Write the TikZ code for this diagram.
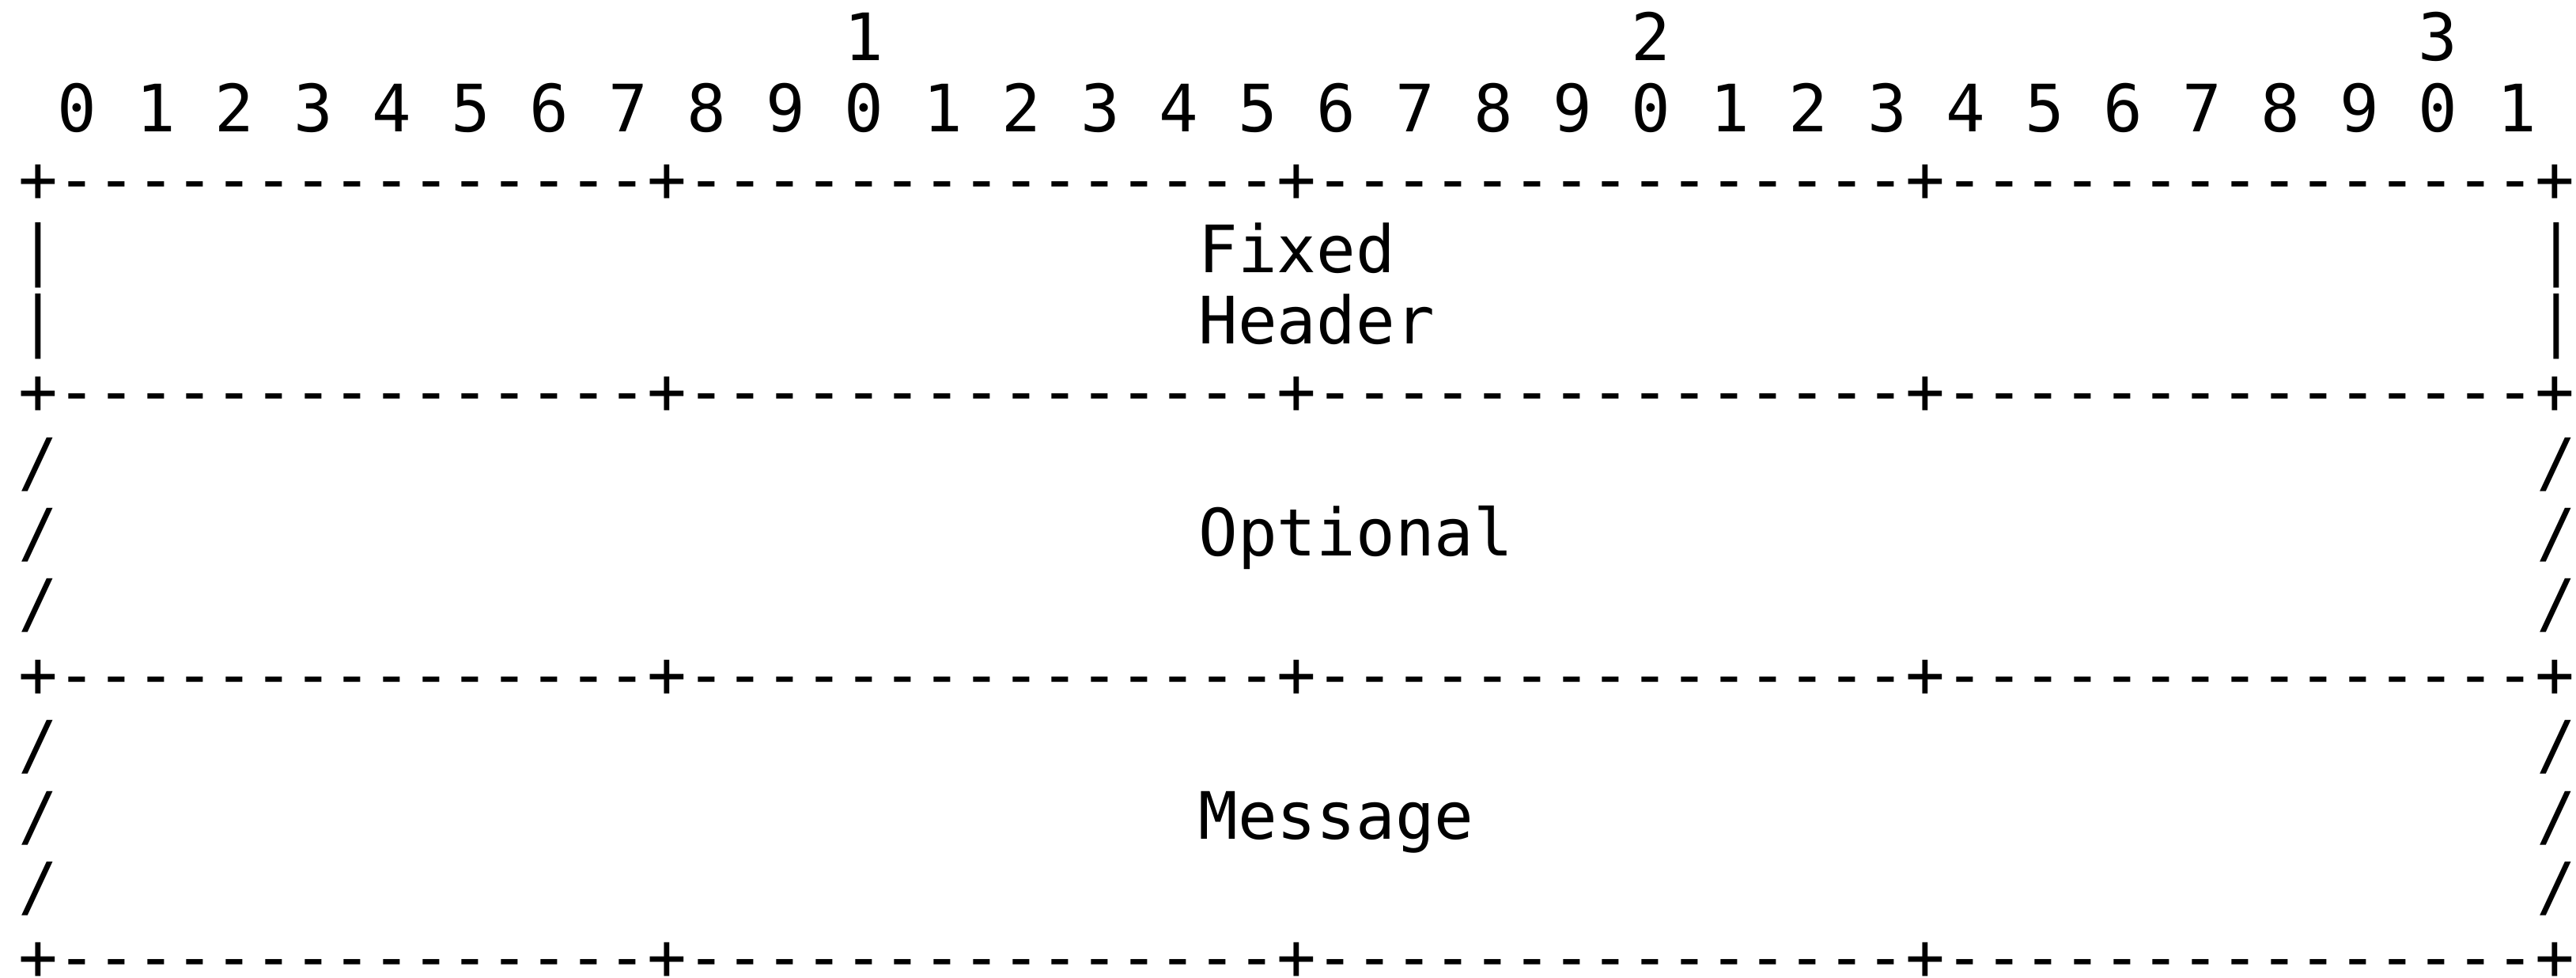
\documentclass[tikz,border=0pt]{standalone}
\usepackage{fontspec}
\setmonofont{DejaVu Sans Mono}

\begin{document}
\begin{tikzpicture}[x=0.4975cm, y=-0.894cm, inner sep=0pt, outer sep=0pt]
  \tikzstyle{every node}=[anchor=base west, font=\ttfamily\fontsize{23.5}{28}\selectfont]
  \tikzstyle{rule}=[text depth=0pt]
  \useasboundingbox (-0.23cm,0.766cm) rectangle (32.34cm,-11.584cm);

  % bit ruler
  \node (ten1) at (21,0) {1};
  \node (ten2) at (41,0) {2};
  \node (ten3) at (61,0) {3};
  \foreach \b in {0,...,31} {
    \pgfmathtruncatemacro{\d}{mod(\b,10)}
    \node (bit\b) at (2*\b+1,1) {\d};
  }

  % separator rows
  \foreach \r/\n in {2/top, 5/hdr, 9/opt, 13/bot}
    \node[rule] (\n) at (0,\r) {+---------------+---------------+---------------+---------------+};

  % side walls
  \foreach \r in {3,4} {
    \node (lbar\r) at (0,\r) {|};
    \node (rbar\r) at (64,\r) {|};
  }
  \foreach \r in {6,7,8,10,11,12} {
    \node (lsl\r) at (0,\r) {/};
    \node (rsl\r) at (64,\r) {/};
  }

  % field names
  \node (fixed)    at (30,3)  {Fixed};
  \node (header)   at (30,4)  {Header};
  \node (optional) at (30,7)  {Optional};
  \node (message)  at (30,11) {Message};
\end{tikzpicture}
\end{document}
